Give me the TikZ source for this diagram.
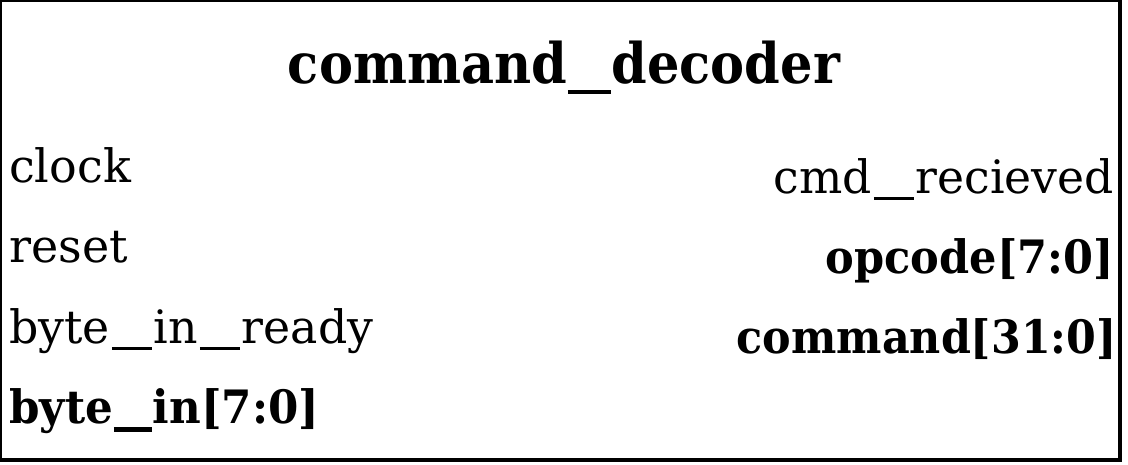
\documentclass[tikz,border=0pt]{standalone}
\usepackage{fontspec}
\usepackage{graphicx}
\setmainfont{DejaVu Serif}
\newcommand{\usr}{\kern2pt\rule[-6.5pt]{40pt}{3pt}\kern2pt}
\newcommand{\usb}{\kern1pt\rule[-8.5pt]{40pt}{4.5pt}\kern1pt}
\newcommand{\ust}{\kern1pt\rule[-11pt]{47pt}{4.5pt}\kern1pt}
\begin{document}
\begin{tikzpicture}[x=1pt,y=-1pt,
  port/.style={inner sep=0pt,font=\fontsize{46}{46}\selectfont},
  bport/.style={port,font=\fontsize{46}{46}\selectfont\bfseries},
  titlestyle/.style={inner sep=0pt,font=\fontsize{56}{56}\selectfont\bfseries}]
\useasboundingbox (0,0) rectangle (1128,464);
\fill[white] (0,0) rectangle (1128,464);
\draw[line width=4pt] (0,0) rectangle (1120,460);
\node[titlestyle,anchor=base] (title) at (564,83) {\resizebox{552pt}{\height}{command\ust decoder}};
\node[port,anchor=base west] (clock) at (9,182) {clock};
\node[port,anchor=base west] (reset) at (9,262) {reset};
\node[port,anchor=base west] (bir) at (9,343) {\resizebox{364pt}{\height}{byte\usr in\usr ready}};
\node[bport,anchor=base west] (bi) at (9,423) {\resizebox{310pt}{\height}{byte\usb in[7:0]}};
\node[port,anchor=base east] (cmdr) at (1114,193) {\resizebox{340pt}{\height}{cmd\usr recieved}};
\node[bport,anchor=base east] (opc) at (1114,273) {\resizebox{288pt}{\height}{opcode[7:0]}};
\node[bport,anchor=base east] (cmd) at (1117,353) {\resizebox{380pt}{\height}{command[31:0]}};
\end{tikzpicture}
\end{document}
